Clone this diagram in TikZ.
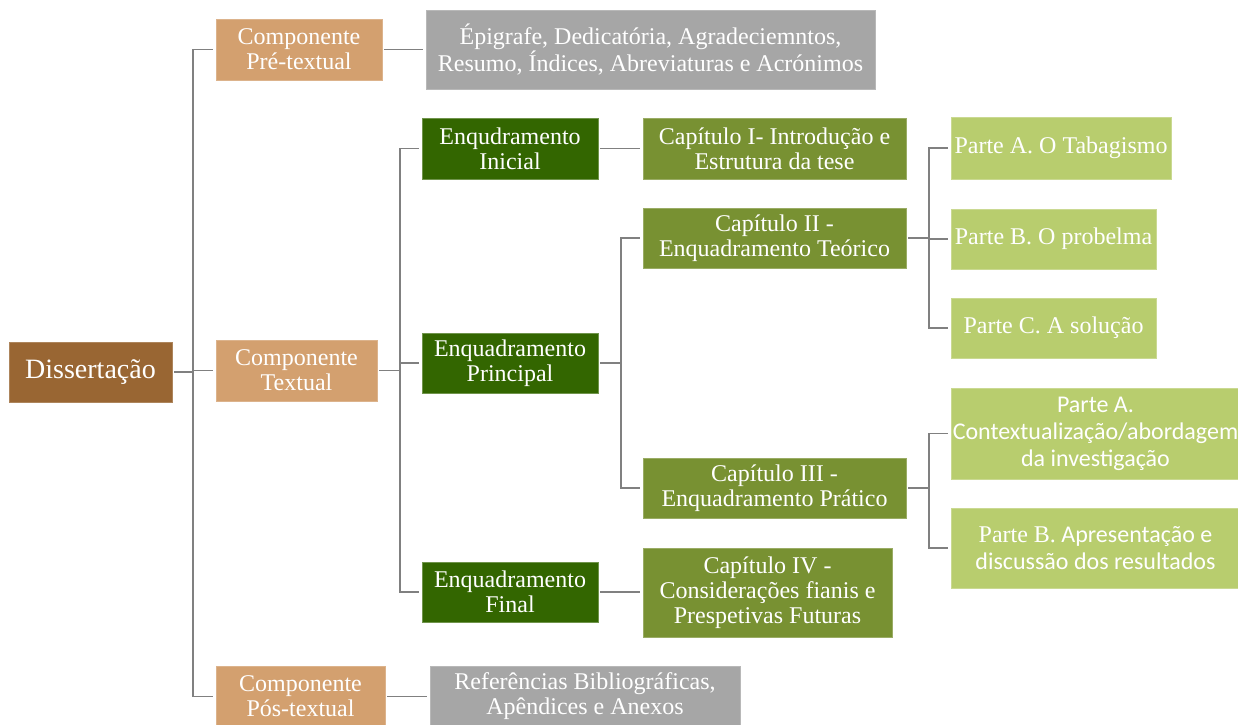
\documentclass[tikz,border=0pt]{standalone}
\usepackage{fontspec}
\setmainfont{Liberation Serif}
\newfontfamily\calibri{Carlito}
\newfontfamily\serifface{Liberation Serif}
\definecolor{rootbrown}{HTML}{996633}
\definecolor{comptan}{HTML}{D3A06F}
\definecolor{boxgrey}{HTML}{A6A6A6}
\definecolor{enqgreen}{HTML}{336600}
\definecolor{capolive}{HTML}{789132}
\definecolor{partlime}{HTML}{B8CD6E}
\definecolor{linkgrey}{HTML}{808080}
\tikzset{
  box/.style={rectangle, inner sep=0pt, align=center, text=white,
    font=\fontsize{24}{25}\selectfont, line width=0.6pt},
  rootbox/.style={box, fill=rootbrown, draw=rootbrown!80!white, font=\fontsize{28}{30}\selectfont},
  compbox/.style={box, fill=comptan, draw=comptan!80!white},
  greybox/.style={box, fill=boxgrey, draw=boxgrey!80!white},
  enqbox/.style={box, fill=enqgreen, draw=enqgreen!70!white},
  capbox/.style={box, fill=capolive, draw=capolive!75!white},
  partbox/.style={box, fill=partlime, draw=partlime!75!white},
  link/.style={draw=linkgrey, line width=1.8pt, shorten >=3pt, shorten <=2pt},
}
\begin{document}
\begin{tikzpicture}[x=1pt, y=-1pt]
\useasboundingbox (0,0) rectangle (1238,724);
\clip (0,0) rectangle (1238,724);

% root
\node[rootbox, minimum width=163pt, minimum height=60pt] (diss) at (90.5,372) {Dissertação};

% components
\node[compbox, minimum width=166pt, minimum height=61pt] (pre) at (299,49.5) {Componente\\Pré-textual};
\node[compbox, minimum width=161pt, minimum height=61pt] (txt) at (296.5,370.5) {Componente\\Textual};
\node[compbox, minimum width=169pt, minimum height=61pt] (pos) at (300.5,696.5) {Componente\\Pós-textual};

% grey lists
\node[greybox, minimum width=449pt, minimum height=79pt] (gtop) at (650.5,49.5) {Épigrafe, Dedicatória, Agradeciemntos,\\Resumo, Índices, Abreviaturas e Acrónimos};
\node[greybox, minimum width=310pt, minimum height=61pt] (gbot) at (585,696.5) {Referências Bibliográficas,\\Apêndices e Anexos};

% frameworks
\node[enqbox, minimum width=176pt, minimum height=61pt] (enqI) at (510,148.5) {Enqudramento\\Inicial};
\node[enqbox, minimum width=176pt, minimum height=60pt] (enqP) at (510,363) {Enquadramento\\Principal};
\node[enqbox, minimum width=176pt, minimum height=60pt] (enqF) at (510,592) {Enquadramento\\Final};

% chapters
\node[capbox, minimum width=263pt, minimum height=61pt] (cap1) at (774.5,148.5) {Capítulo I- Introdução e\\Estrutura da tese};
\node[capbox, minimum width=263pt, minimum height=60pt] (cap2) at (774.5,238) {Capítulo II -\\Enquadramento Teórico};
\node[capbox, minimum width=263pt, minimum height=60pt] (cap3) at (774.5,488) {Capítulo III -\\Enquadramento Prático};
\node[capbox, minimum width=249pt, minimum height=89pt] (cap4) at (767.5,592.5) {Capítulo IV -\\Considerações fianis e\\Prespetivas Futuras};

% parts
\node[partbox, minimum width=220pt, minimum height=62pt] (pA1) at (1061,148) {Parte A. O Tabagismo};
\node[partbox, minimum width=205pt, minimum height=60pt] (pB1) at (1053.5,239) {Parte B. O probelma};
\node[partbox, minimum width=205pt, minimum height=60pt] (pC1) at (1053.5,328) {Parte C. A solução};
\node[partbox, minimum width=289pt, minimum height=91pt, font=\calibri\fontsize{24}{27}\selectfont] (pA2) at (1095.5,433.5) {Parte A.\\Contextualização/abordagem\\da investigação};
\node[partbox, minimum width=289pt, minimum height=80pt, font=\calibri\fontsize{24}{27}\selectfont] (pB2) at (1095.5,548) {{\serifface Parte B.} Apresentação e\\discussão dos resultados};

% connectors
\foreach \c in {pre,txt,pos}
  \draw[link] (diss.east) -- ++(21,0) |- (\c.west);
\draw[link] (pre.east) -- (pre.east -| gtop.west);
\draw[link] (pos.east) -- (pos.east -| gbot.west);
\foreach \c in {enqI,enqP,enqF}
  \draw[link] (txt.east) -- ++(23,0) |- (\c.west);
\draw[link] (enqI.east) -- (enqI.east -| cap1.west);
\draw[link] (enqF.east) -- (enqF.east -| cap4.west);
\foreach \c in {cap2,cap3}
  \draw[link] (enqP.east) -- ++(23,0) |- (\c.west);
\foreach \c in {pA1,pB1,pC1}
  \draw[link] (cap2.east) -- ++(23,0) |- (\c.west);
\foreach \c in {pA2,pB2}
  \draw[link] (cap3.east) -- ++(23,0) |- (\c.west);
\end{tikzpicture}
\end{document}
